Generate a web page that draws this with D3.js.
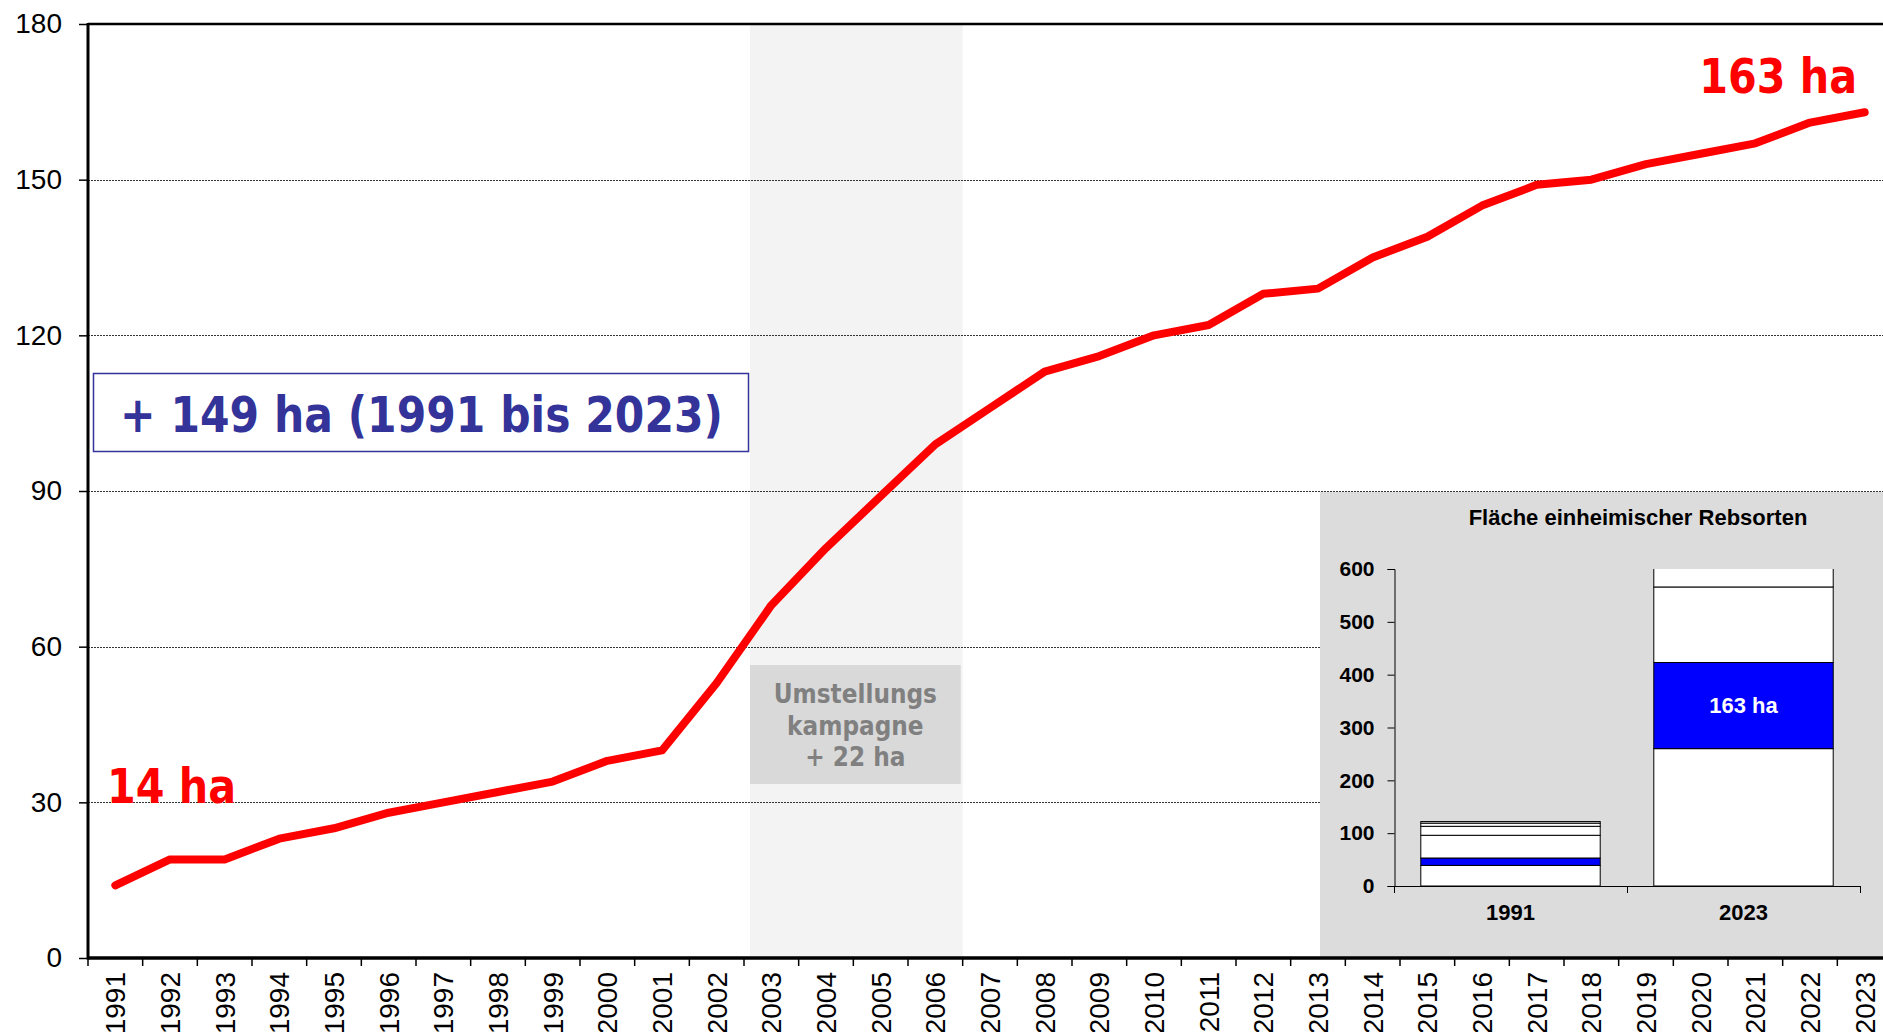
<!DOCTYPE html>
<html>
<head>
<meta charset="utf-8">
<script src="https://cdn.jsdelivr.net/npm/d3@7"></script>
<style>
  body { margin: 0; background: #fff; }
  svg { display: block; }
</style>
</head>
<body>
<div id="chart"></div>
<script>
// main series: area in ha per year
const years = ["1991","1992","1993","1994","1995","1996","1997","1998","1999","2000",
               "2001","2002","2003","2004","2005","2006","2007","2008","2009","2010",
               "2011","2012","2013","2014","2015","2016","2017","2018","2019","2020",
               "2021","2022","2023"];
const area = [14,19,19,23,25,28,30,32,34,38,40,53,68,79,89,99,106,113,116,120,
              122,128,129,135,139,145,149,150,153,155,157,161,163];
const yTicks = [0,30,60,90,120,150,180];
const gridTicks = [30,60,90,120,150];
const campaign = ["2003","2006"];
const campaignLines = ["Umstellungs","kampagne","+ 22 ha"];
const totalLabel = "+ 149 ha (1991 bis 2023)";
const startLabel = "14 ha";
const endLabel = "163 ha";

// inset: stacked area of native varieties
const insetTitle = "Fläche einheimischer Rebsorten";
const insetCats = ["1991","2023"];
const insetKeys = ["s1","s2","s3","s4","s5","s6"];
const seg1991 = [39,14,43,17,6,3];
const seg2023 = [260,163,143,70,0,0];
const insetTicks = [0,100,200,300,400,500,600];
const insetBlueKey = "s2";
const insetBlueLabel = "163 ha";

const W = 1883, H = 1032;
const svg = d3.select("#chart").append("svg")
    .attr("width", W)
    .attr("height", H);

const x = d3.scaleBand().domain(years).range([88, 1892]);
const y = d3.scaleLinear().domain([0, 180]).range([958, 24]);
const bw = x.bandwidth();

const tahoma = "'DejaVu Sans', Verdana, sans-serif";
const arial = "'Liberation Sans', Arial, sans-serif";

// squeeze DejaVu glyphs to roughly the width of Tahoma
function squeeze(sel, ratio) {
    sel.each(function() {
        const w = this.getComputedTextLength();
        d3.select(this).attr("textLength", w * ratio).attr("lengthAdjust", "spacingAndGlyphs");
    });
}

// campaign band
svg.append("rect")
    .attr("x", x(campaign[0]) + 6)
    .attr("y", y(180))
    .attr("width", x(campaign[1]) + bw - x(campaign[0]) - 6)
    .attr("height", y(0) - y(180))
    .attr("fill", "#f3f3f3");

svg.append("rect")
    .attr("x", x(campaign[0]) + 6)
    .attr("y", 665)
    .attr("width", x(campaign[1]) + bw - x(campaign[0]) - 8)
    .attr("height", 119)
    .attr("fill", "#d9d9d9");

const cx = x(campaign[0]) + 6 + (x(campaign[1]) + bw - x(campaign[0]) - 8) / 2;
svg.append("g").selectAll("text")
    .data(campaignLines)
    .join("text")
    .attr("x", cx)
    .attr("y", (d, i) => 703 + i * 31.5)
    .attr("text-anchor", "middle")
    .attr("font-family", tahoma)
    .attr("font-weight", "bold")
    .attr("font-size", 27)
    .attr("fill", "#808080")
    .text(d => d)
    .call(squeeze, 0.86);

// gridlines
svg.append("g").selectAll("line")
    .data(gridTicks)
    .join("line")
    .attr("x1", 88).attr("x2", W)
    .attr("y1", d => Math.round(y(d)) + 0.5)
    .attr("y2", d => Math.round(y(d)) + 0.5)
    .attr("stroke", "#333")
    .attr("stroke-width", 1)
    .attr("stroke-dasharray", "2,1");

// top frame
svg.append("line")
    .attr("x1", 88).attr("x2", W)
    .attr("y1", y(180)).attr("y2", y(180))
    .attr("stroke", "#000").attr("stroke-width", 2.5);

// y axis
const yAxis = svg.append("g")
    .attr("transform", "translate(88,0)")
    .call(d3.axisLeft(y).tickValues(yTicks).tickSize(9).tickPadding(17));
yAxis.select(".domain").remove();
yAxis.selectAll(".tick line").attr("stroke", "#000").attr("stroke-width", 1.5);
yAxis.selectAll("text")
    .attr("font-family", arial)
    .attr("font-size", 28)
    .attr("fill", "#000");

// inset panel
const inset = svg.append("g");
inset.append("rect")
    .attr("x", 1320).attr("y", 492)
    .attr("width", W - 1320).attr("height", 465)
    .attr("fill", "#dcdcdc");

inset.append("text")
    .attr("x", 1638).attr("y", 525)
    .attr("text-anchor", "middle")
    .attr("font-family", arial)
    .attr("font-weight", "bold")
    .attr("font-size", 22)
    .attr("fill", "#000")
    .text(insetTitle);

const xi = d3.scaleBand().domain(insetCats).range([1394, 1860]);
const yi = d3.scaleLinear().domain([0, 600]).range([886, 569]);
const barW = xi.bandwidth() * 0.77;

const insetRows = [seg1991, seg2023].map((s, i) => {
    const row = { cat: insetCats[i] };
    insetKeys.forEach((k, j) => row[k] = s[j]);
    return row;
});
const stacked = d3.stack().keys(insetKeys)(insetRows);

svg.append("defs").append("clipPath")
    .attr("id", "insetClip")
    .append("rect")
    .attr("x", 1394).attr("y", yi(600))
    .attr("width", 470).attr("height", yi(0) - yi(600) + 2);

const bars = inset.append("g").attr("clip-path", "url(#insetClip)");
stacked.forEach(layer => {
    bars.append("g").selectAll("rect")
        .data(layer.filter(d => d[1] > d[0]))
        .join("rect")
        .attr("x", d => xi(d.data.cat) + (xi.bandwidth() - barW) / 2)
        .attr("y", d => yi(d[1]))
        .attr("width", barW)
        .attr("height", d => yi(d[0]) - yi(d[1]))
        .attr("fill", layer.key === insetBlueKey ? "#0000ff" : "#fff")
        .attr("stroke", "#000")
        .attr("stroke-width", 1);
});

const blue2023 = stacked.find(l => l.key === insetBlueKey)[1];
inset.append("text")
    .attr("x", xi(insetCats[1]) + xi.bandwidth() / 2)
    .attr("y", yi((blue2023[0] + blue2023[1]) / 2))
    .attr("dy", "0.36em")
    .attr("text-anchor", "middle")
    .attr("font-family", arial)
    .attr("font-weight", "bold")
    .attr("font-size", 22)
    .attr("fill", "#fff")
    .text(insetBlueLabel);

const yiAxis = inset.append("g")
    .attr("transform", "translate(1394.5,0)")
    .call(d3.axisLeft(yi).tickValues(insetTicks).tickSize(7).tickPadding(13));
yiAxis.select(".domain").attr("stroke", "#000");
yiAxis.selectAll(".tick line").attr("stroke", "#000");
yiAxis.selectAll("text")
    .attr("font-family", arial)
    .attr("font-weight", "bold")
    .attr("font-size", 21)
    .attr("fill", "#000");

inset.append("line")
    .attr("x1", 1394).attr("x2", 1860)
    .attr("y1", yi(0) + 0.5).attr("y2", yi(0) + 0.5)
    .attr("stroke", "#000");
inset.append("g").selectAll("line")
    .data([...insetCats.map(c => xi(c)), 1860])
    .join("line")
    .attr("x1", d => d + 0.5).attr("x2", d => d + 0.5)
    .attr("y1", yi(0)).attr("y2", yi(0) + 7)
    .attr("stroke", "#000");
inset.append("g").selectAll("text")
    .data(insetCats)
    .join("text")
    .attr("x", d => xi(d) + xi.bandwidth() / 2)
    .attr("y", 920)
    .attr("text-anchor", "middle")
    .attr("font-family", arial)
    .attr("font-weight", "bold")
    .attr("font-size", 22)
    .attr("fill", "#000")
    .text(d => d);

// total box
svg.append("rect")
    .attr("x", 93.5).attr("y", 373.5)
    .attr("width", 655).attr("height", 78)
    .attr("fill", "#fff")
    .attr("stroke", "#333399")
    .attr("stroke-width", 1.5);
svg.append("text")
    .attr("x", 120).attr("y", 432)
    .attr("font-family", tahoma)
    .attr("font-weight", "bold")
    .attr("font-size", 50)
    .attr("fill", "#333399")
    .text(totalLabel)
    .call(squeeze, 0.85);

// red line
const series = years.map((yr, i) => ({ year: yr, value: area[i] }));
svg.append("path")
    .datum(series)
    .attr("d", d3.line().x(d => x(d.year) + bw / 2).y(d => y(d.value)))
    .attr("fill", "none")
    .attr("stroke", "#ff0000")
    .attr("stroke-width", 8)
    .attr("stroke-linejoin", "round")
    .attr("stroke-linecap", "round");

svg.append("text")
    .attr("x", 107).attr("y", 803)
    .attr("font-family", tahoma)
    .attr("font-weight", "bold")
    .attr("font-size", 48)
    .attr("fill", "#ff0000")
    .text(startLabel)
    .call(squeeze, 0.86);

svg.append("text")
    .attr("x", 1857).attr("y", 93)
    .attr("text-anchor", "end")
    .attr("font-family", tahoma)
    .attr("font-weight", "bold")
    .attr("font-size", 48)
    .attr("fill", "#ff0000")
    .text(endLabel)
    .call(squeeze, 0.86);

// x axis
svg.append("g").selectAll("line")
    .data([...years.map(d => x(d)), x.range()[1]])
    .join("line")
    .attr("x1", d => d).attr("x2", d => d)
    .attr("y1", y(0)).attr("y2", y(0) + 8)
    .attr("stroke", "#000").attr("stroke-width", 1.5);

svg.append("g").selectAll("text")
    .data(years)
    .join("text")
    .attr("transform", d => `translate(${x(d) + bw / 2},972) rotate(-90)`)
    .attr("dy", "0.36em")
    .attr("text-anchor", "end")
    .attr("font-family", arial)
    .attr("font-size", 28)
    .attr("fill", "#000")
    .text(d => d);

svg.append("line")
    .attr("x1", 88).attr("x2", W)
    .attr("y1", y(0)).attr("y2", y(0))
    .attr("stroke", "#000").attr("stroke-width", 3.5);

svg.append("line")
    .attr("x1", 88).attr("x2", 88)
    .attr("y1", y(180) - 1).attr("y2", y(0) + 1.5)
    .attr("stroke", "#000").attr("stroke-width", 3);
</script>
</body>
</html>
